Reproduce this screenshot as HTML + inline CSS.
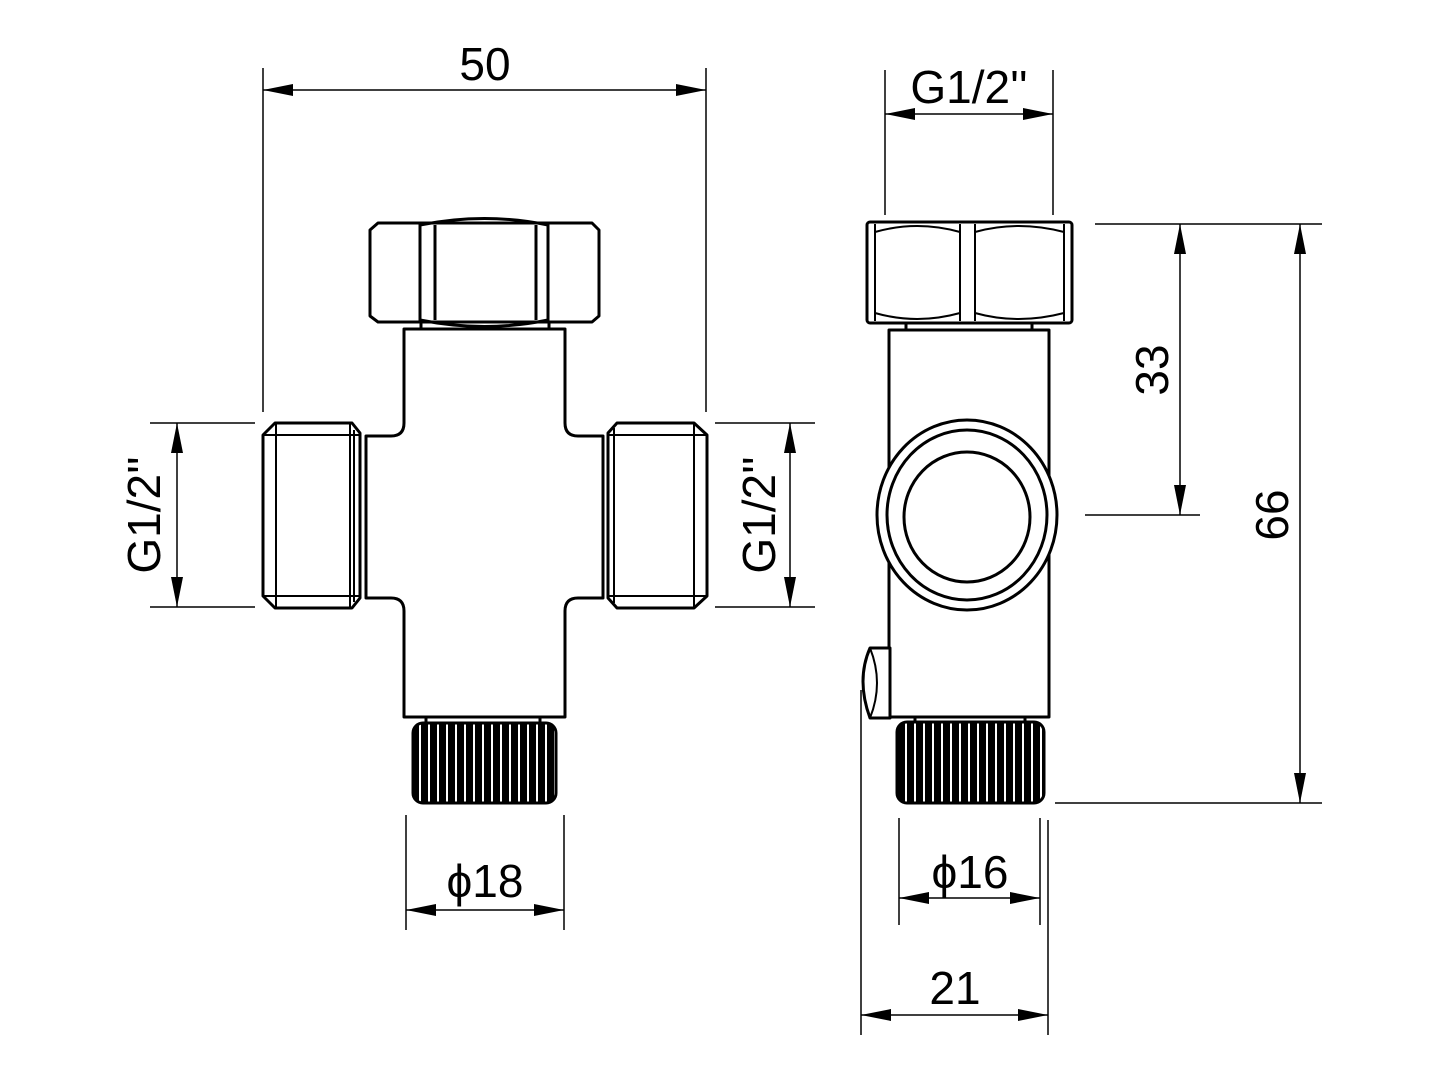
<!DOCTYPE html>
<html><head><style>body{margin:0;background:#fff}svg{display:block}text{font-family:"Liberation Sans",sans-serif;font-size:46px;fill:#000}</style></head><body>
<svg width="1440" height="1080" viewBox="0 0 1440 1080" xmlns="http://www.w3.org/2000/svg">
<defs>
<marker id="a" viewBox="0 0 30 12" refX="30" refY="6" markerWidth="30" markerHeight="12" markerUnits="userSpaceOnUse" orient="auto-start-reverse"><path d="M0,0 L30,6 L0,12 z" fill="#000"/></marker>
<pattern id="k" width="9" height="10" patternUnits="userSpaceOnUse"><rect width="9" height="10" fill="#000"/><rect x="5" width="2" height="10" fill="#fff"/></pattern>
</defs>
<g stroke="#000" stroke-width="1.5" fill="none">
<!-- left dims -->
<line x1="263" y1="68" x2="263" y2="412"/><line x1="706" y1="68" x2="706" y2="412"/>
<line x1="263" y1="90" x2="706" y2="90" marker-start="url(#a)" marker-end="url(#a)"/>
<line x1="150" y1="423" x2="255" y2="423"/><line x1="150" y1="607" x2="255" y2="607"/>
<line x1="177" y1="423" x2="177" y2="607" marker-start="url(#a)" marker-end="url(#a)"/>
<line x1="715" y1="423" x2="815" y2="423"/><line x1="715" y1="607" x2="815" y2="607"/>
<line x1="790" y1="423" x2="790" y2="607" marker-start="url(#a)" marker-end="url(#a)"/>
<line x1="406" y1="815" x2="406" y2="930"/><line x1="564" y1="815" x2="564" y2="930"/>
<line x1="406" y1="910" x2="564" y2="910" marker-start="url(#a)" marker-end="url(#a)"/>
<!-- right dims -->
<line x1="885" y1="70" x2="885" y2="215"/><line x1="1053" y1="70" x2="1053" y2="215"/>
<line x1="885" y1="114" x2="1053" y2="114" marker-start="url(#a)" marker-end="url(#a)"/>
<line x1="1095" y1="224" x2="1322" y2="224"/><line x1="1085" y1="515" x2="1200" y2="515"/>
<line x1="1055" y1="803" x2="1322" y2="803"/>
<line x1="1180" y1="224" x2="1180" y2="515" marker-start="url(#a)" marker-end="url(#a)"/>
<line x1="1300" y1="224" x2="1300" y2="803" marker-start="url(#a)" marker-end="url(#a)"/>
<line x1="899" y1="818" x2="899" y2="925"/><line x1="1040" y1="818" x2="1040" y2="925"/>
<line x1="899" y1="898" x2="1040" y2="898" marker-start="url(#a)" marker-end="url(#a)"/>
<line x1="861" y1="690" x2="861" y2="1035"/><line x1="1048" y1="820" x2="1048" y2="1035"/>
<line x1="861" y1="1015" x2="1048" y2="1015" marker-start="url(#a)" marker-end="url(#a)"/>
</g>
<g stroke="#000" stroke-width="3" fill="#fff" stroke-linejoin="round">
<!-- left view body -->
<path d="M404,329 H565 V423 Q565,436 578,436 H603 V598 H578 Q565,598 565,611 V717 H404 V611 Q404,598 391,598 H366 V436 H391 Q404,436 404,423 Z"/>
<rect x="421" y="322" width="128" height="7"/>
<path d="M378,223 H592 L599,230 V316 L592,322 H378 L370,316 V230 Z"/>
<path d="M420,225 Q485,212 548,225 M420,320 Q485,333 548,320" fill="none"/>
<path d="M420,223 V322 M435,225 V320 M536,225 V320 M548,223 V322" fill="none"/>
<path d="M275,423 H352 L360,433 V598 L352,608 H275 L263,596 V435 Z"/>
<path d="M276,423 V608 M350,423 V608 M354,430 V602 M263,435 H360 M263,596 H360" fill="none" stroke-width="2"/>
<path d="M617,423 H694 L707,435 V596 L694,608 H617 L608,598 V433 Z"/>
<path d="M614,428 V603 M694,423 V608 M608,435 H707 M608,596 H707" fill="none" stroke-width="2"/>
<rect x="426" y="717" width="114" height="6"/>
<rect x="413" y="723" width="143" height="80" rx="10" fill="url(#k)"/>
<!-- right view -->
<rect x="889" y="330" width="160" height="387"/>
<rect x="906" y="322" width="126" height="8"/>
<rect x="867" y="222" width="205" height="101" rx="3"/>
<path d="M875,224 V321 M1064,224 V321 M960,224 V321 M975,224 V321" fill="none" stroke-width="2"/>
<path d="M875,232 Q917,220 960,232 M975,232 Q1018,220 1064,232 M875,313 Q917,325 960,313 M975,313 Q1018,325 1064,313" fill="none" stroke-width="2"/>
<ellipse cx="967" cy="515" rx="90" ry="95"/>
<ellipse cx="967" cy="515" rx="80" ry="85"/>
<ellipse cx="967" cy="517" rx="63" ry="65"/>
<path d="M890,648 H870 Q856,680 870,718 H890 Z"/>
<path d="M870,648 Q884,683 870,718" fill="none" stroke-width="2"/>
<rect x="915" y="717" width="110" height="5"/>
<rect x="897" y="722" width="147" height="81" rx="10" fill="url(#k)"/>
</g>
<text x="485" y="80" text-anchor="middle">50</text>
<text x="969" y="103" text-anchor="middle">G1/2''</text>
<text x="485" y="897" text-anchor="middle">ϕ18</text>
<text x="970" y="888" text-anchor="middle">ϕ16</text>
<text x="955" y="1004" text-anchor="middle">21</text>
<text transform="translate(160,515) rotate(-90)" text-anchor="middle">G1/2''</text>
<text transform="translate(775,515) rotate(-90)" text-anchor="middle">G1/2''</text>
<text transform="translate(1168,370) rotate(-90)" text-anchor="middle">33</text>
<text transform="translate(1288,515) rotate(-90)" text-anchor="middle">66</text>
</svg>
</body></html>
